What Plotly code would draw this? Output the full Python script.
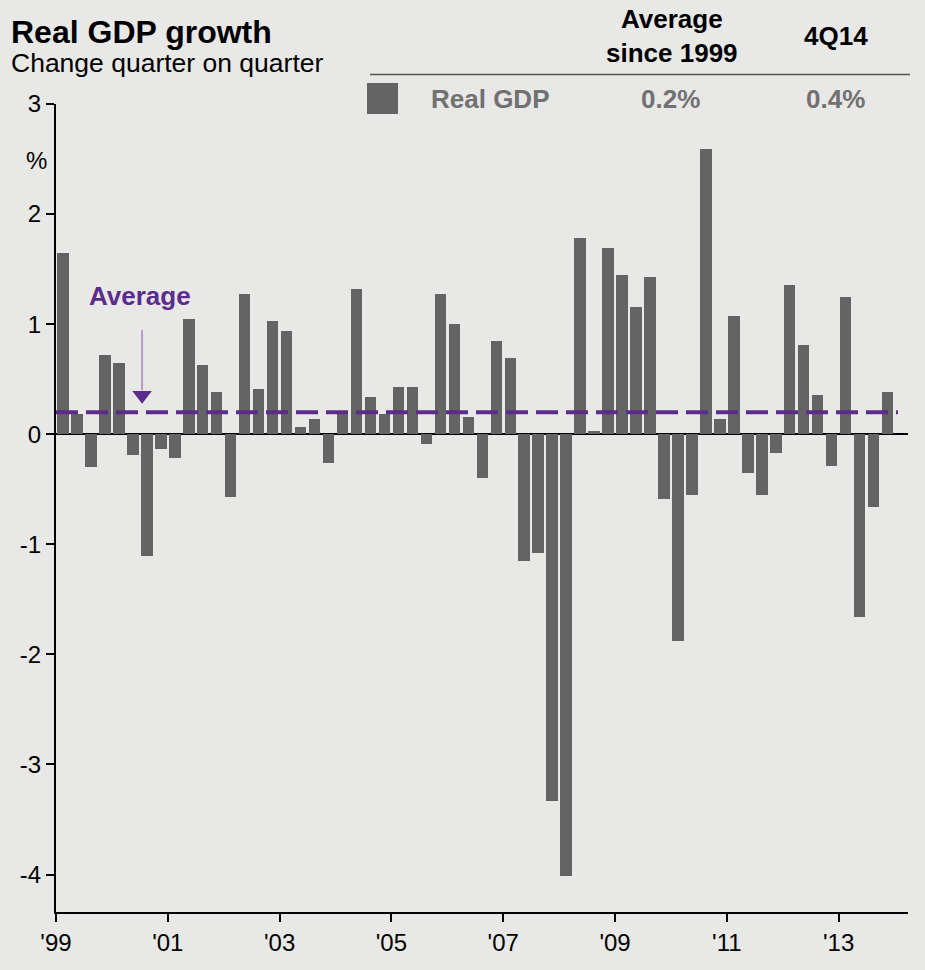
import plotly.graph_objects as go

# Quarterly real GDP growth, % change quarter on quarter, 1Q99 onwards
start_year = 1999
growth = [
    1.65, 0.18, -0.30, 0.72, 0.65, -0.19, -1.11, -0.13, -0.22, 1.05,
    0.63, 0.38, -0.57, 1.27, 0.41, 1.03, 0.94, 0.07, 0.14, -0.26,
    0.21, 1.32, 0.34, 0.18, 0.43, 0.43, -0.09, 1.27, 1.00, 0.16,
    -0.40, 0.85, 0.69, -1.15, -1.08, -3.33, -4.01, 1.78, 0.03, 1.69,
    1.45, 1.16, 1.43, -0.59, -1.88, -0.55, 2.59, 0.14, 1.07, -0.35,
    -0.55, -0.17, 1.36, 0.81, 0.36, -0.29, 1.25, -1.66, -0.66, 0.38,
]
average_since_1999 = 0.2

x_tick_years = [1999, 2001, 2003, 2005, 2007, 2009, 2011, 2013]
x_tick_labels = ["'99", "'01", "'03", "'05", "'07", "'09", "'11", "'13"]
y_tick_values = [3, 2, 1, 0, -1, -2, -3, -4]
y_tick_labels = ["3", "2", "1", "0", "-1", "-2", "-3", "-4"]

series_name = "Real GDP"
latest_label = "4Q14"

BG = "#E8E8E6"
BAR = "#646464"
PURPLE = "#5B2C8C"
ARROW = "#A68CC6"
GREY_TXT = "#717171"
FONT = "Liberation Sans, Arial, sans-serif"

W, H = 925, 970
ML, MR, MT, MB = 56, 17, 104, 58
PW, PH = W - ML - MR, H - MT - MB


def px(x):
    return (x - ML) / PW


def py(y):
    return (H - MB - y) / PH


# bar centres at the middle of each quarter
quarter_pos = [start_year + (i + 0.5) / 4 for i in range(len(growth))]

fig = go.Figure()
fig.add_trace(go.Bar(
    x=quarter_pos, y=growth, width=0.205,
    marker=dict(color=BAR, line=dict(width=0)),
    showlegend=False, hoverinfo="x+y",
))

# arrow head pointing at the average line
fig.add_trace(go.Scatter(
    x=[2000.54], y=[average_since_1999 + 0.155], mode="markers",
    marker=dict(symbol="triangle-down", size=17, color=PURPLE, line=dict(width=0)),
    showlegend=False, hoverinfo="skip",
))

shapes = [
    # average line
    dict(type="line", xref="x", yref="y", x0=start_year, x1=2014.06,
         y0=average_since_1999, y1=average_since_1999,
         line=dict(color=PURPLE, width=4, dash="22px,8px"), layer="above"),
    # rule under the table header
    dict(type="line", xref="paper", yref="paper", x0=px(370), x1=px(910),
         y0=py(74.5), y1=py(74.5), line=dict(color="#555555", width=1.5)),
    # legend swatch
    dict(type="rect", xref="paper", yref="paper", x0=px(367), x1=px(398),
         y0=py(114), y1=py(83), fillcolor=BAR, line=dict(width=0)),
]

annotations = [
    dict(text="<b>Real GDP growth</b>", xref="paper", yref="paper",
         x=px(9), y=py(32), xanchor="left", yanchor="middle", showarrow=False,
         font=dict(size=32, color="#000000", family=FONT)),
    dict(text="Change quarter on quarter", xref="paper", yref="paper",
         x=px(9), y=py(63), xanchor="left", yanchor="middle", showarrow=False,
         font=dict(size=26.5, color="#000000", family=FONT)),
    dict(text="<b>Average<br>since 1999</b>", xref="paper", yref="paper",
         x=px(672), y=py(36), xanchor="center", yanchor="middle", showarrow=False,
         font=dict(size=26, color="#000000", family=FONT)),
    dict(text=f"<b>{latest_label}</b>", xref="paper", yref="paper",
         x=px(836), y=py(36), xanchor="center", yanchor="middle", showarrow=False,
         font=dict(size=26, color="#000000", family=FONT)),
    dict(text=f"<b>{series_name}</b>", xref="paper", yref="paper",
         x=px(490), y=py(99), xanchor="center", yanchor="middle", showarrow=False,
         font=dict(size=26, color=GREY_TXT, family=FONT)),
    dict(text=f"<b>{average_since_1999:.1f}%</b>", xref="paper", yref="paper",
         x=px(670), y=py(99), xanchor="center", yanchor="middle", showarrow=False,
         font=dict(size=26, color=GREY_TXT, family=FONT)),
    dict(text=f"<b>{growth[-1]:.1f}%</b>", xref="paper", yref="paper",
         x=px(835), y=py(99), xanchor="center", yanchor="middle", showarrow=False,
         font=dict(size=26, color=GREY_TXT, family=FONT)),
    dict(text="%", xref="paper", yref="y", x=px(36), y=2.49,
         xanchor="center", yanchor="middle", showarrow=False,
         font=dict(size=24, color="#000000", family=FONT)),
    dict(text="<b>Average</b>", xref="x", yref="y", x=2000.5, y=1.26,
         xanchor="center", yanchor="middle", showarrow=False,
         font=dict(size=26, color=PURPLE, family=FONT)),
    # arrow shaft
    dict(text="", xref="x", yref="y", x=2000.54, y=average_since_1999 + 0.2,
         ax=0, ay=-62, showarrow=True, arrowhead=0, arrowwidth=1.6,
         arrowcolor=ARROW),
]

fig.update_layout(
    width=W, height=H, autosize=False,
    margin=dict(l=ML, r=MR, t=MT, b=MB, pad=0),
    paper_bgcolor=BG, plot_bgcolor=BG,
    font=dict(family=FONT, size=24, color="#000000"),
    shapes=shapes, annotations=annotations, bargap=0,
    xaxis=dict(
        range=[start_year, 2014.24], tickvals=x_tick_years, ticktext=x_tick_labels,
        showgrid=False, zeroline=False, showline=True, linecolor="#000000", linewidth=2,
        ticks="outside", ticklen=8, tickwidth=1.5, tickcolor="#000000",
        tickfont=dict(size=24, family=FONT, color="#000000"),
    ),
    yaxis=dict(
        range=[-4.34, 3], tickvals=y_tick_values, ticktext=y_tick_labels,
        showgrid=False, zeroline=True, zerolinecolor="#000000", zerolinewidth=2,
        showline=True, linecolor="#000000", linewidth=2,
        ticks="outside", ticklen=8, tickwidth=1.5, tickcolor="#000000",
        tickfont=dict(size=24, family=FONT, color="#000000"),
    ),
)

fig.write_html("out.html")
